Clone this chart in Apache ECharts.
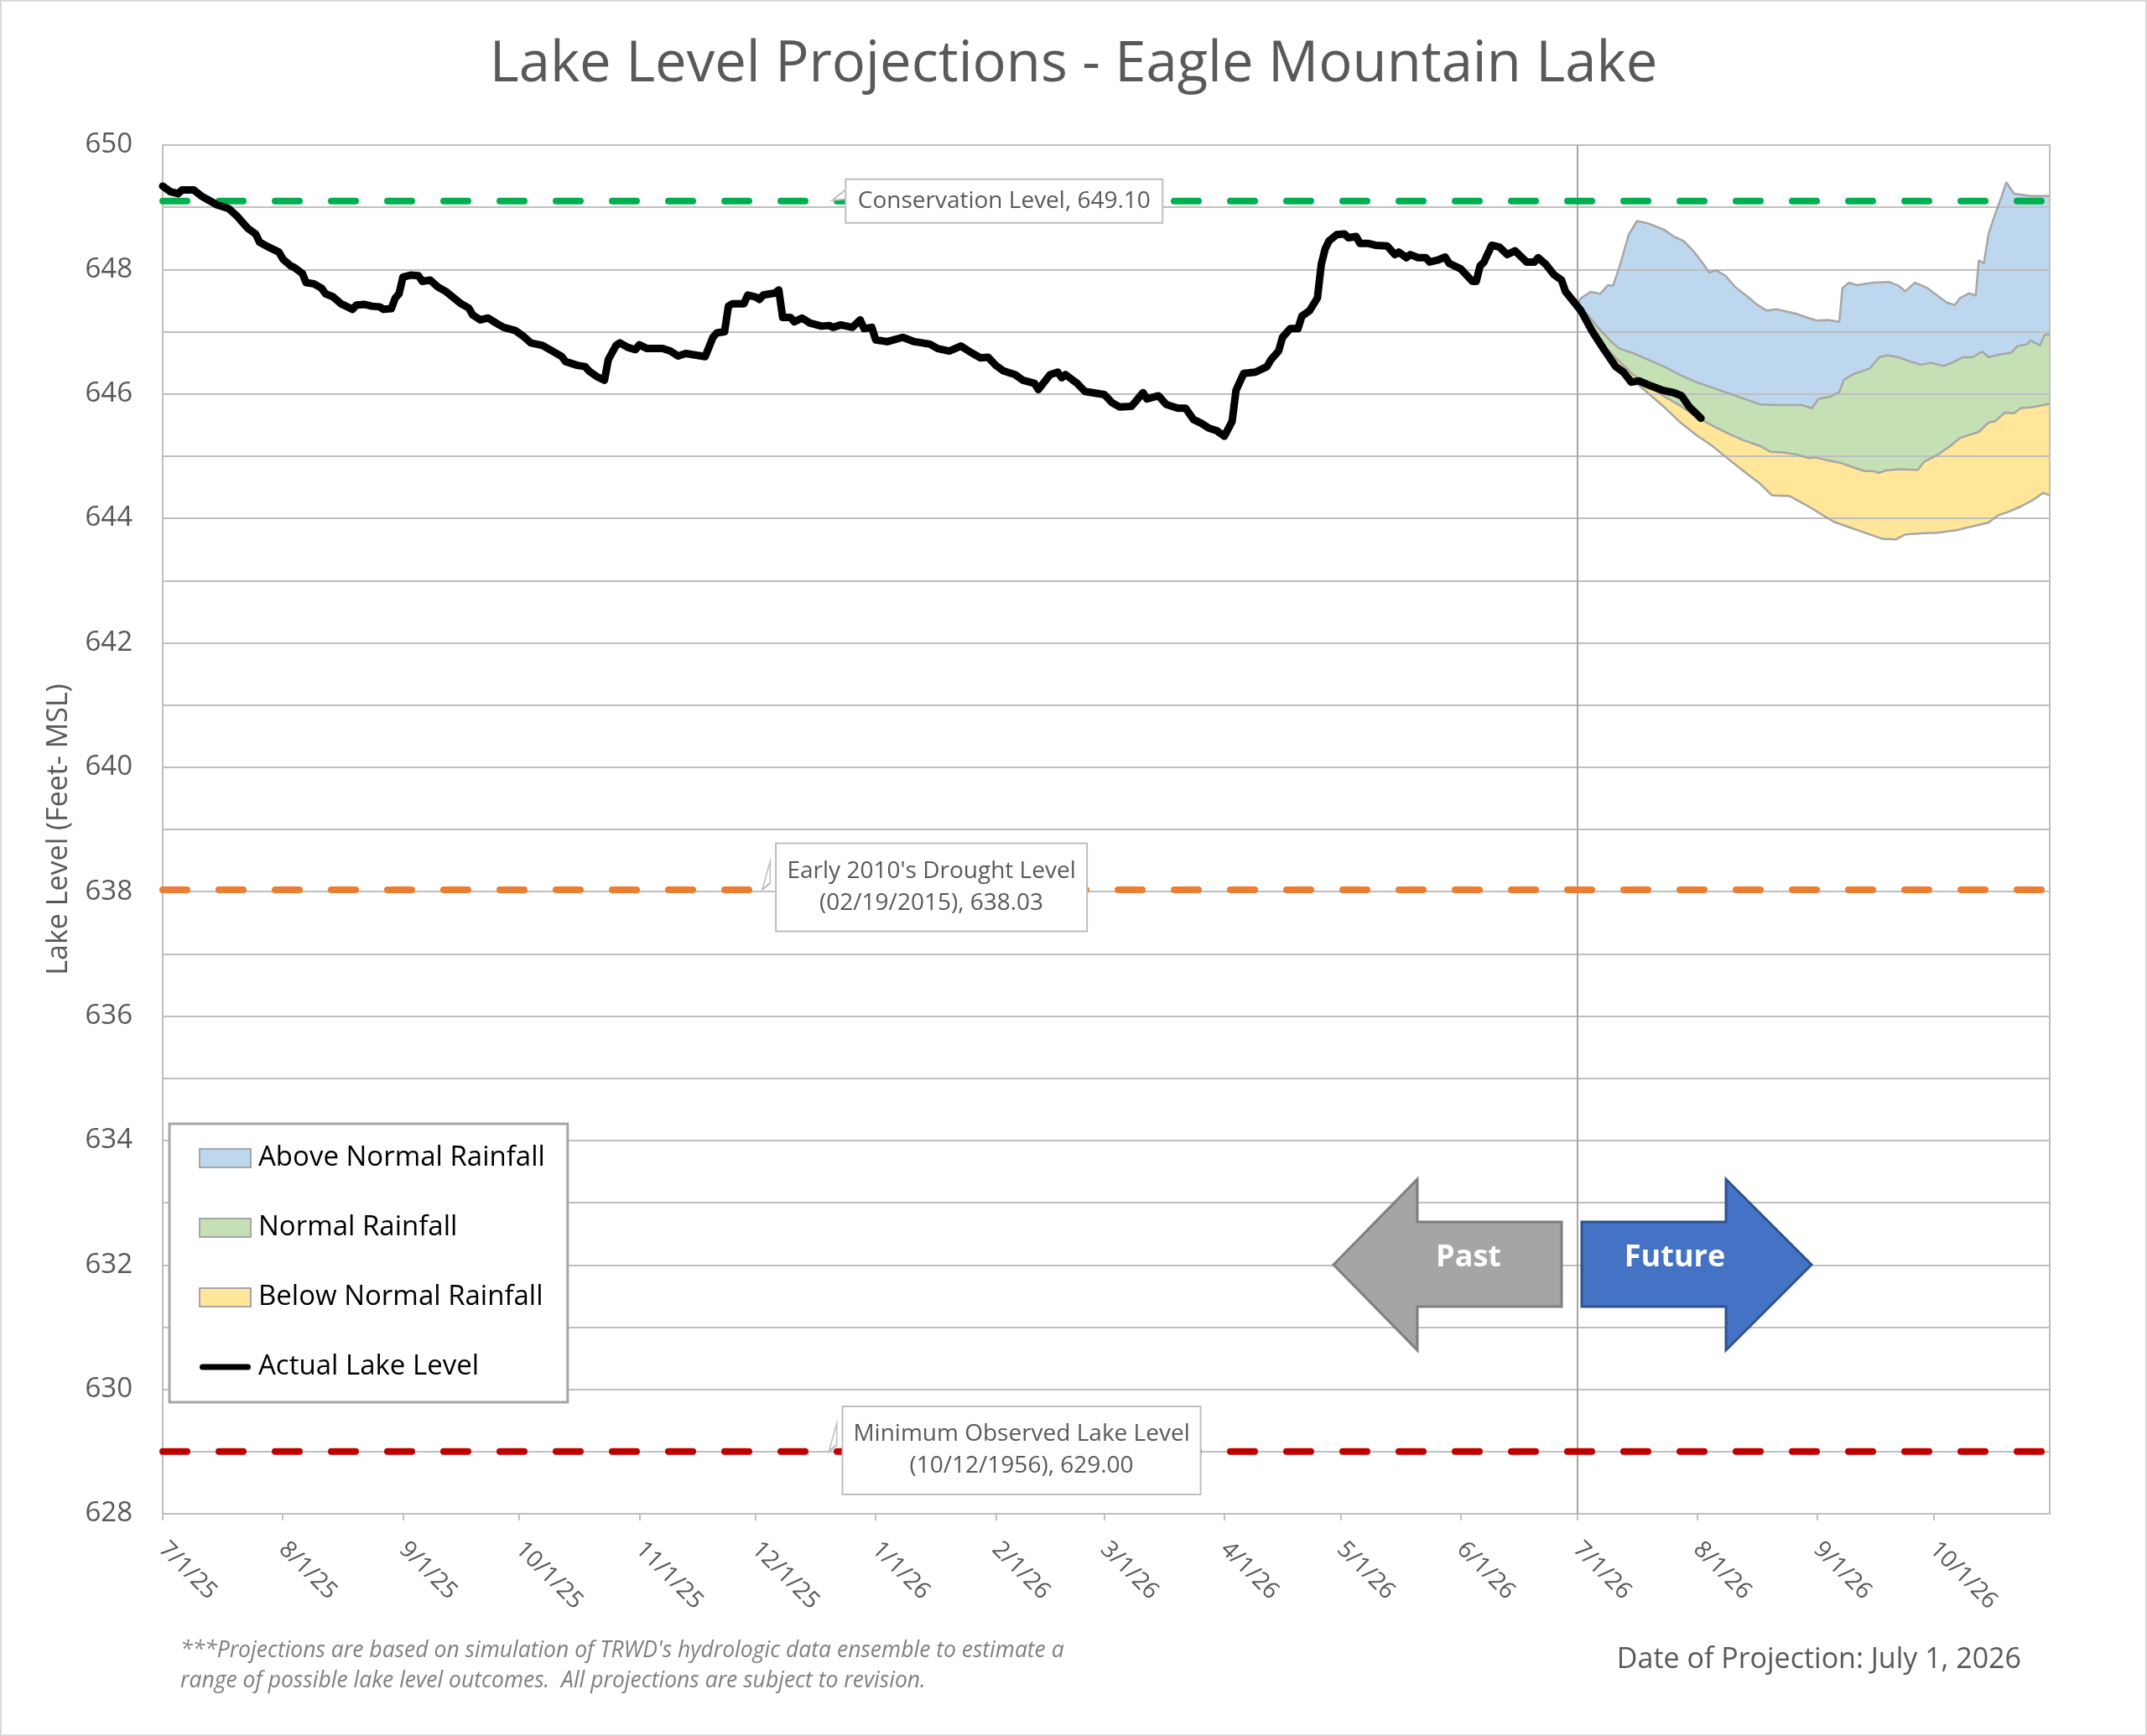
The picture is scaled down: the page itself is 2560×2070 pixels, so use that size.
<!DOCTYPE html>
<html>
<head>
<meta charset="utf-8">
<title>Lake Level Projections - Eagle Mountain Lake</title>
<script src="https://cdn.jsdelivr.net/npm/echarts@6.0.0/dist/echarts.min.js"></script>
<style>
    html, body { margin: 0; padding: 0; background: #fff; }
    #chart { width: 2560px; height: 2070px; }
</style>
</head>
<body>
<div id="chart"></div>
<script>
// x values are days counted from 7/1/25, levels are feet MSL
const START = Date.UTC(2025, 6, 1);
const toDay = s => {
    const [m, d, y] = s.split('/').map(Number);
    return (Date.UTC(2000 + y, m - 1, d) - START) / 864e5;
};

const MONTH_LABELS = ['7/1/25', '8/1/25', '9/1/25', '10/1/25', '11/1/25', '12/1/25', '1/1/26', '2/1/26',
    '3/1/26', '4/1/26', '5/1/26', '6/1/26', '7/1/26', '8/1/26', '9/1/26', '10/1/26'];
const AXIS_END = '10/31/26';
const PROJECTION_DATE = '7/1/26';
const LEVEL_MIN = 628;
const LEVEL_MAX = 650;

const ACTUAL_LEVEL = [
    [0, 649.34], [2, 649.25], [4, 649.22], [5, 649.28], [8, 649.28], [10, 649.18], [12, 649.11], [14, 649.04],
    [17, 648.98], [19, 648.87], [22, 648.66], [24, 648.57], [25, 648.44], [27, 648.37], [30, 648.28], [31, 648.17],
    [33, 648.06], [34, 648.03], [36, 647.94], [37, 647.79], [39, 647.77], [41, 647.70], [42, 647.61], [44, 647.56],
    [46, 647.45], [49, 647.36], [50, 647.43], [52, 647.44], [54, 647.41], [56, 647.40], [57, 647.36], [59, 647.37],
    [60, 647.54], [61, 647.61], [62, 647.88], [64, 647.91], [66, 647.90], [67, 647.81], [69, 647.83], [71, 647.72],
    [73, 647.65], [77, 647.45], [79, 647.38], [80, 647.27], [82, 647.19], [84, 647.22], [86, 647.14], [88, 647.07],
    [91, 647.02], [93, 646.93], [95, 646.82], [98, 646.78], [100, 646.71], [103, 646.60], [104, 646.52], [107, 646.46],
    [109, 646.44], [110, 646.37], [112, 646.28], [114, 646.22], [115, 646.55], [117, 646.78], [118, 646.82], [120, 646.75],
    [122, 646.71], [123, 646.79], [125, 646.73], [129, 646.73], [131, 646.69], [133, 646.61], [135, 646.65], [138, 646.62],
    [140, 646.60], [142, 646.91], [143, 646.98], [145, 647.00], [146, 647.41], [147, 647.45], [150, 647.45], [151, 647.59],
    [153, 647.56], [154, 647.52], [155, 647.59], [158, 647.62], [159, 647.67], [160, 647.23], [162, 647.23], [163, 647.16],
    [165, 647.22], [167, 647.14], [170, 647.09], [172, 647.10], [173, 647.07], [175, 647.11], [178, 647.07], [180, 647.19],
    [181, 647.05], [183, 647.07], [184, 646.87], [187, 646.84], [191, 646.91], [194, 646.84], [198, 646.80], [200, 646.73],
    [203, 646.69], [206, 646.77], [208, 646.69], [211, 646.58], [213, 646.59], [215, 646.46], [217, 646.37], [220, 646.31],
    [222, 646.22], [225, 646.17], [226, 646.07], [229, 646.31], [231, 646.35], [232, 646.26], [233, 646.31], [236, 646.17],
    [238, 646.04], [241, 646.01], [243, 645.99], [245, 645.86], [247, 645.79], [250, 645.80], [253, 646.02], [254, 645.92],
    [257, 645.97], [259, 645.83], [262, 645.77], [264, 645.77], [266, 645.59], [268, 645.53], [270, 645.45], [272, 645.41],
    [274, 645.32], [276, 645.56], [277, 646.06], [279, 646.33], [282, 646.35], [285, 646.44], [286, 646.55], [288, 646.69],
    [289, 646.91], [291, 647.05], [293, 647.05], [294, 647.25], [296, 647.34], [298, 647.54], [299, 648.08], [300, 648.33],
    [301, 648.46], [303, 648.56], [305, 648.57], [306, 648.51], [308, 648.53], [309, 648.42], [311, 648.42], [313, 648.39],
    [316, 648.38], [318, 648.24], [319, 648.28], [321, 648.19], [322, 648.24], [324, 648.19], [326, 648.19], [327, 648.12],
    [329, 648.15], [331, 648.20], [332, 648.10], [335, 648.01], [338, 647.81], [339, 647.81], [340, 648.06], [341, 648.12],
    [343, 648.39], [345, 648.36], [347, 648.24], [349, 648.30], [352, 648.12], [354, 648.12], [355, 648.19], [357, 648.08],
    [359, 647.92], [361, 647.83], [362, 647.65], [366, 647.34], [369, 647.00], [372, 646.71], [375, 646.44], [377, 646.35],
    [379, 646.19], [381, 646.21], [384, 646.13], [387, 646.06], [390, 646.02], [392, 645.97], [394, 645.79], [397, 645.61]
];

// projection envelopes: upper edge of each band, plus the lower edge of the lowest band
const ABOVE_NORMAL_TOP = [
    [365, 647.42], [366, 647.54], [368.5, 647.64], [371, 647.61], [373, 647.75], [374.3, 647.74], [375.9, 648.03],
    [378.4, 648.57], [380.5, 648.78], [383.4, 648.74], [387.5, 648.64], [390, 648.53], [392.5, 648.46], [395, 648.30],
    [397.5, 648.10], [399.1, 647.95], [400.8, 647.99], [403.3, 647.90], [405.8, 647.72], [409.1, 647.56], [411.6, 647.43],
    [414, 647.34], [416.5, 647.36], [421.5, 647.29], [424.8, 647.22], [426.9, 647.18], [429.8, 647.19], [432.7, 647.16],
    [433.5, 647.70], [435.2, 647.79], [437.2, 647.75], [441.4, 647.79], [445.5, 647.80], [448, 647.74], [449.7, 647.65],
    [452.2, 647.79], [455.5, 647.70], [458, 647.58], [460.4, 647.47], [462.5, 647.43], [463.8, 647.54], [466.2, 647.62],
    [467.9, 647.58], [468.7, 648.15], [470, 648.10], [471.2, 648.57], [472.9, 648.89], [474.5, 649.16], [475.8, 649.40],
    [477.8, 649.22], [479.9, 649.20], [482, 649.18], [487, 649.18]
];
const NORMAL_TOP = [
    [365, 647.42], [367.7, 647.28], [370.1, 647.09], [373.5, 646.86], [375.9, 646.73], [379.3, 646.66], [383.4, 646.55],
    [387.5, 646.44], [391.7, 646.30], [395.8, 646.19], [400, 646.10], [404.1, 646.01], [408.2, 645.92], [412.4, 645.83],
    [416.5, 645.82], [420.7, 645.82], [423.2, 645.82], [425.6, 645.77], [427.3, 645.92], [430.6, 645.96], [432.7, 646.03],
    [433.9, 646.23], [436.4, 646.32], [440.6, 646.41], [443, 646.59], [445.1, 646.62], [448, 646.59], [450.5, 646.53],
    [453.8, 646.47], [456.3, 646.50], [459.6, 646.45], [462.1, 646.51], [464.6, 646.59], [467.1, 646.59], [469.6, 646.68],
    [471.2, 646.59], [474.5, 646.64], [477, 646.66], [478.7, 646.77], [481.2, 646.80], [482, 646.86], [484.5, 646.78],
    [485.7, 646.95], [487, 646.96]
];
const BELOW_NORMAL_TOP = [
    [365, 647.42], [369, 647.05], [372.6, 646.73], [375.1, 646.57], [379.3, 646.32], [383.4, 646.14], [387.5, 645.96],
    [391.7, 645.81], [395.8, 645.63], [400, 645.49], [404.1, 645.36], [408.2, 645.25], [412.4, 645.16], [414.9, 645.07],
    [418.2, 645.06], [421.5, 645.03], [424.8, 644.97], [426.5, 644.98], [429.8, 644.93], [433.1, 644.89], [437.2, 644.80],
    [439.3, 644.76], [441.4, 644.76], [443, 644.73], [444.7, 644.77], [448, 644.79], [453, 644.78], [454.6, 644.91],
    [458, 645.02], [461.3, 645.16], [463.8, 645.29], [466.2, 645.34], [468.7, 645.39], [471.2, 645.54], [472.9, 645.56],
    [475.4, 645.70], [477.8, 645.69], [479.5, 645.77], [482.8, 645.79], [487, 645.84]
];
const BELOW_NORMAL_BOTTOM = [
    [365, 647.42], [369, 647.00], [372, 646.71], [374.3, 646.50], [379.3, 646.23], [383.4, 646.01], [387.5, 645.79],
    [391.7, 645.54], [395.8, 645.34], [400, 645.16], [404.1, 644.95], [408.2, 644.75], [412.4, 644.55], [415.3, 644.37],
    [419.8, 644.36], [424.8, 644.19], [429, 644.03], [431.4, 643.94], [435.6, 643.85], [439.7, 643.76], [443.9, 643.67],
    [447.2, 643.66], [449.7, 643.74], [453.8, 643.76], [458, 643.77], [462.9, 643.81], [466.2, 643.86], [471.2, 643.93],
    [473.7, 644.05], [476.2, 644.10], [479.5, 644.19], [482.8, 644.30], [485.3, 644.41], [487, 644.37]
];

const REF_NAMES = ['Conservation Level', "Early 2010's Drought Level\n(02/19/2015)", 'Minimum Observed Lake Level\n(10/12/1956)'];
const REF_LEVELS = [649.10, 638.03, 629.00];

const FONT = "'Open Sans', sans-serif";
const GRAY_TEXT = '#595959';
const GRID_GRAY = '#BFBFBF';
const EDGE_GRAY = '#A6A6A6';
const BAND_COLORS = ['#BDD7EE', '#C5E0B4', '#FFE699'];
// callout layout: tip position on the line, wedge size, box size
const REF_STYLES = [
    { color: '#00B050', tipDay: 172.8, wedge: [18, 16, 14], boxW: 376, padY: 8, lineHeight: 34, dy: 0 },
    { color: '#ED7D31', tipDay: 153.8, wedge: [18, 34, 26], boxW: 369, padY: 13.5, lineHeight: 38, dy: -1.5 },
    { color: '#C00000', tipDay: 171, wedge: [18, 34, 26], boxW: 425, padY: 13.5, lineHeight: 38, dy: 0 }
];

const monthDays = MONTH_LABELS.map(toDay);
const xMax = toDay(AXIS_END);

function bandSeries(name, color, upper, lower) {
    return {
        type: 'custom',
        name,
        z: -1,
        silent: true,
        itemStyle: { color },
        data: [upper[0]],
        renderItem: (params, api) => ({
            type: 'polygon',
            shape: { points: upper.concat(lower.slice().reverse()).map(p => api.coord(p)) },
            style: { fill: color }
        })
    };
}

function edgeSeries(points, extra) {
    return Object.assign({
        type: 'line',
        data: points,
        symbol: 'none',
        silent: true,
        z: 1,
        lineStyle: { color: EDGE_GRAY, width: 2.5 }
    }, extra || {});
}

function refSeries(i) {
    const st = REF_STYLES[i];
    const [w, h, low] = st.wedge;
    return {
        type: 'line',
        name: REF_NAMES[i],
        data: [[0, REF_LEVELS[i]], [xMax, REF_LEVELS[i]]],
        symbol: 'none',
        silent: true,
        z: 2,
        lineStyle: { color: st.color, width: 8, type: [29, 38], cap: 'round' },
        markPoint: {
            silent: true,
            symbol: `path://M0,${h}L${w},0L${w},${low}Z`,
            symbolSize: [w, h],
            symbolOffset: [w / 2, -h / 2],
            symbolKeepAspect: true,
            itemStyle: { color: '#fff', borderColor: GRID_GRAY, borderWidth: 2 },
            label: {
                show: true,
                position: [w + st.boxW / 2, h + st.dy],
                align: 'center',
                verticalAlign: 'middle',
                width: st.boxW,
                formatter: `${REF_NAMES[i]}, ${REF_LEVELS[i].toFixed(2)}`,
                fontFamily: FONT,
                fontSize: 28,
                lineHeight: st.lineHeight,
                color: GRAY_TEXT,
                backgroundColor: '#fff',
                borderColor: GRID_GRAY,
                borderWidth: 2,
                padding: [st.padY, 0]
            },
            data: [{ coord: [st.tipDay, REF_LEVELS[i]] }]
        }
    };
}

const chart = echarts.init(document.getElementById('chart'), null, { renderer: 'canvas' });

chart.setOption({
    animation: false,
    backgroundColor: '#fff',
    textStyle: { fontFamily: FONT },
    title: {
        text: 'Lake Level Projections - Eagle Mountain Lake',
        left: 'center',
        top: 39,
        textStyle: { fontSize: 67, fontWeight: 'normal', color: GRAY_TEXT, fontFamily: FONT }
    },
    grid: {
        left: 194, right: 116, top: 173, bottom: 265,
        show: true, borderColor: GRID_GRAY, borderWidth: 2, backgroundColor: 'transparent'
    },
    legend: {
        left: 202, top: 1340,
        orient: 'vertical',
        padding: [20, 27, 21, 35],
        itemGap: 41,
        itemWidth: 61,
        itemHeight: 22,
        backgroundColor: '#fff',
        borderColor: EDGE_GRAY,
        borderWidth: 3,
        selectedMode: false,
        textStyle: { fontSize: 33, color: '#000', lineHeight: 42, fontFamily: FONT, padding: [0, 0, 0, 4] },
        data: [
            { name: 'Above Normal Rainfall', icon: 'rect', itemStyle: { color: BAND_COLORS[0], borderColor: EDGE_GRAY, borderWidth: 2 } },
            { name: 'Normal Rainfall', icon: 'rect', itemStyle: { color: BAND_COLORS[1], borderColor: EDGE_GRAY, borderWidth: 2 } },
            { name: 'Below Normal Rainfall', icon: 'rect', itemStyle: { color: BAND_COLORS[2], borderColor: EDGE_GRAY, borderWidth: 2 } },
            { name: 'Actual Lake Level', icon: 'path://M4,0H64A4,4,0,0,1,64,8H4A4,4,0,0,1,4,0Z', itemStyle: { color: '#000', borderWidth: 0 } }
        ]
    },
    xAxis: {
        type: 'value',
        min: 0,
        max: xMax,
        splitLine: { show: false },
        axisLine: { lineStyle: { color: GRID_GRAY, width: 2 } },
        axisTick: { customValues: monthDays, length: 8, lineStyle: { color: GRID_GRAY, width: 2 } },
        axisLabel: {
            customValues: monthDays,
            formatter: v => MONTH_LABELS[monthDays.indexOf(v)] || '',
            rotate: -45,
            margin: 38,
            fontSize: 28,
            color: GRAY_TEXT,
            fontFamily: FONT
        }
    },
    yAxis: {
        type: 'value',
        min: LEVEL_MIN,
        max: LEVEL_MAX,
        interval: 1,
        name: 'Lake Level (Feet- MSL)',
        nameLocation: 'middle',
        nameGap: 107,
        nameTextStyle: { fontSize: 34, color: GRAY_TEXT, fontFamily: FONT },
        axisLine: { show: true, lineStyle: { color: GRID_GRAY, width: 2 } },
        axisTick: { show: false },
        splitLine: { lineStyle: { color: GRID_GRAY, width: 2 } },
        axisLabel: {
            formatter: v => (v % 2 === 0 ? String(v) : ''),
            margin: 36,
            fontSize: 33,
            color: GRAY_TEXT,
            fontFamily: FONT
        }
    },
    series: [
        bandSeries('Above Normal Rainfall', BAND_COLORS[0], ABOVE_NORMAL_TOP, NORMAL_TOP),
        bandSeries('Normal Rainfall', BAND_COLORS[1], NORMAL_TOP, BELOW_NORMAL_TOP),
        bandSeries('Below Normal Rainfall', BAND_COLORS[2], BELOW_NORMAL_TOP, BELOW_NORMAL_BOTTOM),
        edgeSeries(ABOVE_NORMAL_TOP, {
            markLine: {
                silent: true,
                z: 1,
                symbol: ['none', 'none'],
                label: { show: false },
                lineStyle: { color: EDGE_GRAY, width: 2, type: 'solid' },
                data: [{ xAxis: toDay(PROJECTION_DATE) }]
            }
        }),
        edgeSeries(NORMAL_TOP),
        edgeSeries(BELOW_NORMAL_TOP),
        edgeSeries(BELOW_NORMAL_BOTTOM),
        refSeries(0),
        refSeries(1),
        refSeries(2),
        {
            type: 'line',
            name: 'Actual Lake Level',
            data: ACTUAL_LEVEL,
            symbol: 'none',
            z: 4,
            itemStyle: { color: '#000' },
            lineStyle: { color: '#000', width: 9, cap: 'round', join: 'round' }
        }
    ],
    graphic: [
        {
            type: 'polygon', z: 10, silent: true,
            shape: { points: [[1590, 1508], [1690, 1406], [1690, 1457], [1862, 1457], [1862, 1558], [1690, 1558], [1690, 1610]] },
            style: { fill: '#A5A5A5', stroke: '#7F7F7F', lineWidth: 3 }
        },
        {
            type: 'polygon', z: 10, silent: true,
            shape: { points: [[1886, 1457], [2058, 1457], [2058, 1406], [2160, 1508], [2058, 1610], [2058, 1558], [1886, 1558]] },
            style: { fill: '#4472C4', stroke: '#2F528F', lineWidth: 3 }
        },
        {
            type: 'text', z: 11, silent: true, x: 1751, y: 1500,
            style: { text: 'Past', fill: '#fff', fontSize: 36, fontWeight: 'bold', fontFamily: FONT, align: 'center', verticalAlign: 'middle' }
        },
        {
            type: 'text', z: 11, silent: true, x: 1997, y: 1500,
            style: { text: 'Future', fill: '#fff', fontSize: 36, fontWeight: 'bold', fontFamily: FONT, align: 'center', verticalAlign: 'middle' }
        },
        {
            type: 'text', z: 11, silent: true, x: 215, y: 1950,
            style: {
                text: "***Projections are based on simulation of TRWD's hydrologic data ensemble to estimate a\nrange of possible lake level outcomes.  All projections are subject to revision.",
                fill: '#7F7F7F', fontSize: 26.5, fontStyle: 'italic', fontFamily: FONT, lineHeight: 36, align: 'left', verticalAlign: 'top'
            }
        },
        {
            type: 'text', z: 11, silent: true, x: 2410, y: 1979,
            style: { text: 'Date of Projection: July 1, 2026', fill: GRAY_TEXT, fontSize: 34, fontFamily: FONT, align: 'right', verticalAlign: 'middle' }
        },
        {
            type: 'rect', z: 100, silent: true,
            shape: { x: 0, y: 0, width: 2560, height: 2070 },
            style: { fill: 'none', stroke: '#D9D9D9', lineWidth: 4 }
        }
    ]
});
</script>
</body>
</html>
